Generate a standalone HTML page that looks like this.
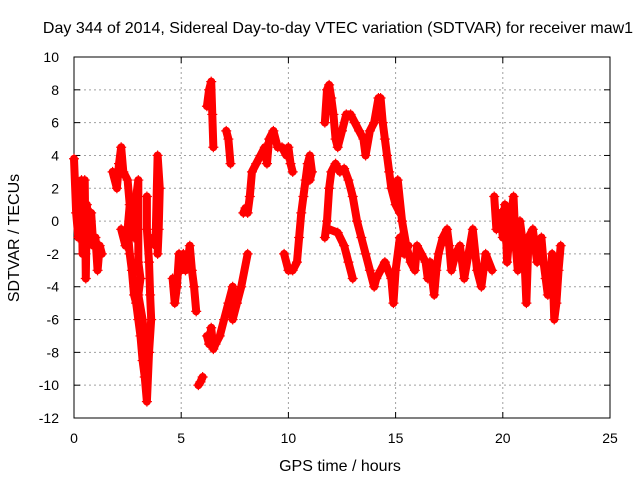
<!DOCTYPE html>
<html><head><meta charset="utf-8"><style>
body{margin:0;background:#fff}
svg text{font-family:"Liberation Sans",sans-serif;font-size:14px;fill:#000}
svg text.big{font-size:16px}
</style></head><body>
<svg id="c" width="640" height="480">
<rect width="640" height="480" fill="#fff"/>
<text class="big" x="338" y="33" text-anchor="middle">Day 344 of 2014, Sidereal Day-to-day VTEC variation (SDTVAR) for receiver maw1</text>
<g id="grid"></g>
<g id="axes"></g>
<g id="marks"></g>
<text class="big" x="340" y="471" text-anchor="middle">GPS time / hours</text>
<text class="big" transform="translate(19,238) rotate(-90)" text-anchor="middle">SDTVAR / TECUs</text>
</svg>
<script>
const xTicks=[0,5,10,15,20,25];
const yTicks=[10,8,6,4,2,0,-2,-4,-6,-8,-10,-12];
const track1=[[0.0,3.8],[0.1,0.5],[0.2,-1],[0.3,1],[0.35,2.5],[0.4,-2],[0.5,2.5],[0.55,-3.5],[0.6,1],[0.7,-1],[0.8,0.5],[0.9,-1.5],[1.0,-1],[1.1,-3],[1.2,-1.5],[1.3,-2]];
const track2=[[1.8,3],[2.0,2],[2.1,3.5],[2.2,4.5],[2.3,3],[2.5,2.5],[2.6,1],[2.5,-0.5],[2.6,-2],[2.7,-3],[2.8,-4.5],[2.9,-5],[3.0,-6],[3.1,-7],[3.2,-8.5],[3.3,-9.5],[3.4,-11],[3.5,-8],[3.6,-6],[3.55,-4.5],[3.5,-2.5],[3.4,-0.5],[3.4,1.5]];
const track3=[[2.2,-0.5],[2.4,-1.5],[2.6,-0.5],[2.8,-1],[2.9,1.5],[3.0,2.5],[3.0,-2.5],[3.1,-3.5],[3.0,-4.5],[3.2,-6],[3.3,-7.5]];
const track4=[[3.7,-1],[3.8,-1.5],[3.9,4],[4.0,2],[3.95,-0.5],[3.9,-2]];
const track5=[[4.6,-3.5],[4.7,-5],[4.8,-4],[4.9,-2],[5.0,-3],[5.1,-2],[5.2,-3],[5.3,-2.5],[5.4,-1.5],[5.5,-3],[5.6,-4],[5.7,-5.5]];
const track6=[[5.8,-10],[5.9,-9.8],[6.0,-9.5]];
const track7=[[6.2,7],[6.3,8],[6.4,8.5],[6.45,6.5],[6.5,4.5]];
const track8=[[6.2,-7],[6.3,-7.5],[6.4,-6.5],[6.5,-7.8],[6.6,-7.5],[6.8,-7],[7.0,-6],[7.2,-5],[7.4,-4],[7.4,-6],[7.6,-5],[7.8,-4],[8.1,-2]];
const track9=[[7.1,5.5],[7.2,5],[7.3,3.5]];
const track10=[[7.9,0.5],[8.0,0.8],[8.1,0.5],[8.2,1.5],[8.3,3],[8.5,3.5],[8.7,4],[8.9,4.5],[9.0,3.5],[9.1,5],[9.3,5.5],[9.5,4.5],[9.7,4.5],[9.9,4],[10.0,4.5],[10.1,3.5],[10.2,3.0]];
const track11=[[9.8,-2],[10.0,-3],[10.2,-3],[10.4,-2.5],[10.5,-1],[10.6,0.5],[10.7,1.5],[10.8,2.5],[10.9,3.5],[11.0,4],[11.1,3],[11.0,2.5]];
const track12=[[11.7,6],[11.8,8],[11.9,8.3],[12.0,7.5],[12.1,6.5],[12.2,5],[12.3,4.5],[12.5,5.5],[12.7,6.5],[12.9,6.5],[13.1,6],[13.3,5.5],[13.5,5],[13.6,4],[13.8,5.5],[14.0,6],[14.2,7.5],[14.3,7.5],[14.4,6],[14.5,5],[14.6,4],[14.7,3],[14.8,2],[15.0,1],[15.2,0.5]];
const track13=[[11.7,-1],[11.8,0],[11.9,2],[12.0,3],[12.2,3.5],[12.4,3],[12.6,3.2],[12.8,2.5],[13.0,1.5],[13.2,0],[13.4,-1],[13.6,-2],[13.8,-3],[14.0,-4],[14.1,-3.5],[14.3,-3],[14.5,-2.5],[14.8,-3.5],[14.9,-5],[15.0,-3],[15.2,-1],[15.4,-2],[15.6,-1.5]];
const track14=[[11.9,-0.5],[12.3,-0.7],[12.6,-1.5],[12.8,-2.5],[13.0,-3.5]];
const track15=[[15.1,2.5],[15.3,0],[15.5,-1.5],[15.7,-2.5],[15.9,-3],[16.0,-1.5],[16.2,-2],[16.4,-2.5],[16.5,-3.5],[16.6,-2.5],[16.8,-4.5],[16.9,-3],[17.0,-2],[17.2,-1],[17.4,-0.5],[17.5,-1.5],[17.6,-3],[17.8,-2],[18.0,-1.5],[18.2,-3.5],[18.4,-2],[18.6,-0.5],[18.8,-3],[19.0,-4],[19.2,-2],[19.5,-3]];
const track16=[[19.6,1.5],[19.7,-0.5],[19.9,0.5],[20.0,-1],[20.1,1],[20.2,-2.5],[20.3,-1],[20.4,0.5],[20.5,1.5],[20.6,-1.5],[20.7,-3],[20.8,0],[20.9,-1],[21.0,-2],[21.1,-5],[21.2,-1],[21.4,-0.5],[21.5,-1.5],[21.6,-2.5],[21.8,-1],[21.9,-2.5],[22.0,-3.5],[22.1,-4.5],[22.2,-4],[22.3,-2],[22.4,-6],[22.5,-5],[22.6,-3],[22.7,-1.5]];
const tracks=[track1,track2,track3,track4,track5,track6,track7,track8,track9,track10,track11,track12,track13,track14,track15,track16];

const X0=74,X1=610,Y0=57,Y1=418;
const xs=t=>X0+(t-0)/(25-0)*(X1-X0);
const ys=v=>Y0+(10-v)/(10-(-12))*(Y1-Y0);
const NS='http://www.w3.org/2000/svg';
function mk(tag,attrs,parent){const e=document.createElementNS(NS,tag);for(const k in attrs)e.setAttribute(k,attrs[k]);parent.appendChild(e);return e;}
const grid=document.getElementById('grid'),axes=document.getElementById('axes'),marks=document.getElementById('marks');
xTicks.forEach(t=>{const x=xs(t);
 if(t>0&&t<25){const l=mk('line',{x1:x,x2:x,y1:Y0,y2:Y1,stroke:'#a0a0a0','stroke-dasharray':'2,3'},grid);}
 mk('line',{x1:x,x2:x,y1:Y1,y2:Y1-6,stroke:'#000'},axes);mk('line',{x1:x,x2:x,y1:Y0,y2:Y0+6,stroke:'#000'},axes);
 const tx=mk('text',{x:x,y:443,'text-anchor':'middle'},axes);tx.textContent=t;
 });
yTicks.forEach(v=>{const y=ys(v);
 if(v<10&&v>-12){const l=mk('line',{x1:X0,x2:X1,y1:y,y2:y,stroke:'#a0a0a0','stroke-dasharray':'2,3'},grid);}
 mk('line',{x1:X0,x2:X0+6,y1:y,y2:y,stroke:'#000'},axes);mk('line',{x1:X1,x2:X1-6,y1:y,y2:y,stroke:'#000'},axes);
 const tx=mk('text',{x:59,y:y+5,'text-anchor':'end'},axes);tx.textContent=v;
 });
mk('rect',{x:X0,y:Y0,width:X1-X0,height:Y1-Y0,fill:'none',stroke:'#000'},axes);
tracks.forEach(tr=>{
 const pl=mk('polyline',{points:tr.map(p=>xs(p[0])+','+ys(p[1])).join(' '),fill:'none',stroke:'#f00','stroke-width':8,'stroke-linejoin':'round','stroke-linecap':'round'},marks);
 
 tr.forEach(p=>{const x=xs(p[0]),y=ys(p[1]);
  const m=mk('path',{d:`M${x-5},${y}h10M${x},${y-5}v10`,stroke:'#f00','stroke-width':1.2},marks);
  });
});
</script>
</body></html>
